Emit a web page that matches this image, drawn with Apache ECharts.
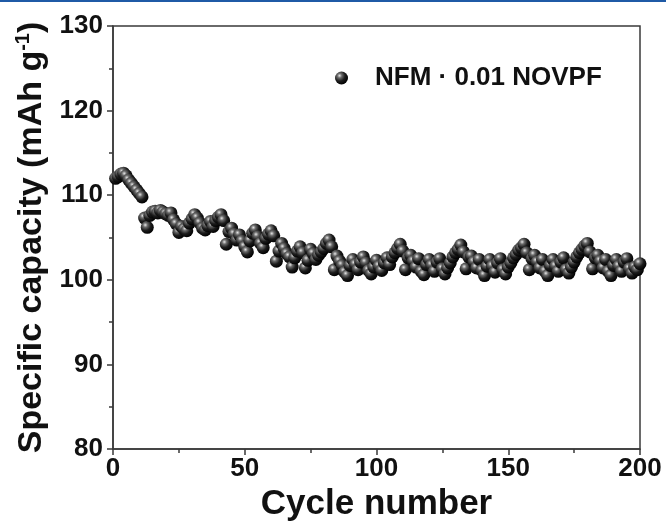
<!DOCTYPE html>
<html>
<head>
<meta charset="utf-8">
<script src="https://cdn.jsdelivr.net/npm/echarts@6/dist/echarts.min.js"></script>
<style>
  html, body { margin: 0; padding: 0; background: #fff; }
  #chart { width: 666px; height: 528px; }
</style>
</head>
<body>
<div id="chart"></div>
<script>
// capacity per cycle, cycles 1..200 (mAh g-1)
var capacity = [
  112.0, 112.2, 112.5, 112.6, 112.3, 111.8, 111.4, 111.0, 110.6, 110.2, 109.8,
  107.3, 106.2, 107.6, 108.0, 108.1, 107.9, 108.2, 108.0, 107.8, 107.6, 107.9,
  107.1, 106.6, 105.6, 106.3, 106.0, 105.8, 106.7, 107.2,
  107.7, 107.3, 106.7, 106.1, 105.9, 106.4, 106.9, 106.3, 107.0, 107.4,
  107.7, 107.0, 104.2, 105.7, 106.1, 105.4, 104.7, 105.3, 104.6, 103.9,
  103.3, 104.6, 105.5, 105.9, 105.1, 104.3, 103.8, 104.9, 105.4, 105.8,
  105.2, 102.2, 103.4, 104.3, 103.7, 103.1, 102.7, 101.5, 102.6, 103.4,
  103.9, 103.2, 101.4, 102.3, 103.6, 103.1, 102.4, 102.9, 103.3, 103.7,
  104.3, 104.7, 103.9, 101.2, 102.8, 102.2, 101.7, 100.9, 100.5, 101.7,
  102.4, 101.8, 101.2, 102.1, 102.7, 102.0, 101.1, 100.7, 101.5, 102.3,
  101.6, 101.1, 102.0, 102.6, 101.8, 102.7, 103.2, 103.7, 104.2, 103.4,
  101.2, 102.6, 102.9, 102.2, 101.5, 102.5, 101.0, 100.6, 101.8, 102.4,
  101.7, 101.0, 102.1, 102.5, 101.3, 100.7, 101.4, 102.0, 102.7, 103.2,
  103.6, 104.1, 103.3, 101.3, 102.7, 102.8, 102.1, 101.4, 102.4, 101.1,
  100.5, 101.6, 102.4, 101.6, 100.9, 102.0, 102.5, 101.2, 100.7, 101.5,
  102.0, 102.6, 103.0, 103.5, 103.8, 104.2, 103.2, 101.2, 102.5, 102.9,
  102.1, 101.4, 102.4, 101.0, 100.5, 101.7, 102.4, 101.6, 101.0, 102.1,
  102.6, 101.2, 100.8, 101.5, 102.1, 102.7, 103.2, 103.6, 104.0, 104.3,
  103.3, 101.3, 102.6, 102.9, 102.2, 101.4, 102.4, 101.0, 100.5, 101.7,
  102.4, 101.6, 101.0, 102.1, 102.5, 101.3, 100.8, 101.5, 101.2, 101.9
]
var seriesName = 'NFM \u00B7 0.01 NOVPF'

var points = []
for (var i = 0; i < capacity.length; i++) {
  points.push([i + 1, capacity[i]])
}

var ball = new echarts.graphic.RadialGradient(0.35, 0.32, 0.7, [
  { offset: 0, color: '#e6e6e6' },
  { offset: 0.25, color: '#6a6a6a' },
  { offset: 0.6, color: '#1c1c1c' },
  { offset: 1, color: '#000' }
])

var axisColor = '#3a3a3a'
var font = 'Liberation Sans, Arial, sans-serif'

var chart = echarts.init(document.getElementById('chart'))
chart.setOption({
  animation: false,
  backgroundColor: '#fff',
  graphic: [{
    type: 'rect',
    shape: { x: 0, y: 0, width: 666, height: 2 },
    style: { fill: '#1f5aa6' }
  }],
  grid: {
    left: 113, right: 26, top: 26, bottom: 79,
    show: true, borderColor: axisColor, borderWidth: 1.5
  },
  legend: {
    left: 330, top: 60,
    icon: 'circle', itemWidth: 13, itemHeight: 13,
    textStyle: { fontFamily: font, fontWeight: 'bold', fontSize: 26, color: '#111', padding: [0, 0, 0, 22] },
    data: [seriesName]
  },
  xAxis: {
    type: 'value', min: 0, max: 200, interval: 50,
    name: 'Cycle number', nameLocation: 'middle', nameGap: 33,
    nameTextStyle: { fontFamily: font, fontWeight: 'bold', fontSize: 35, color: '#111' },
    axisLine: { lineStyle: { color: axisColor, width: 1.5 } },
    axisTick: { length: 6, lineStyle: { color: axisColor, width: 1.5 } },
    minorTick: { show: true, splitNumber: 2, length: 4, lineStyle: { color: axisColor, width: 1.5 } },
    axisLabel: { fontFamily: font, fontWeight: 'bold', fontSize: 26, color: '#111', margin: 7 },
    splitLine: { show: false }
  },
  yAxis: {
    type: 'value', min: 80, max: 130, interval: 10,
    name: '{t|Specific capacity (mAh g}{s|-1}{t|)}', nameLocation: 'middle', nameGap: 60, nameRotate: 90,
    nameTextStyle: {
      rich: {
        t: { fontFamily: font, fontWeight: 'bold', fontSize: 34, color: '#111' },
        s: { fontFamily: font, fontWeight: 'bold', fontSize: 20, color: '#111', verticalAlign: 'top', padding: [0, 0, 16, 0] }
      }
    },
    axisLine: { lineStyle: { color: axisColor, width: 1.5 } },
    axisTick: { length: 6, lineStyle: { color: axisColor, width: 1.5 } },
    minorTick: { show: true, splitNumber: 2, length: 4, lineStyle: { color: axisColor, width: 1.5 } },
    axisLabel: { fontFamily: font, fontWeight: 'bold', fontSize: 26, color: '#111', margin: 10 },
    splitLine: { show: false }
  },
  series: [{
    name: seriesName,
    type: 'scatter',
    symbol: 'circle',
    symbolSize: 13,
    itemStyle: { color: ball, opacity: 1 },
    data: points
  }]
})
</script>
</body>
</html>
